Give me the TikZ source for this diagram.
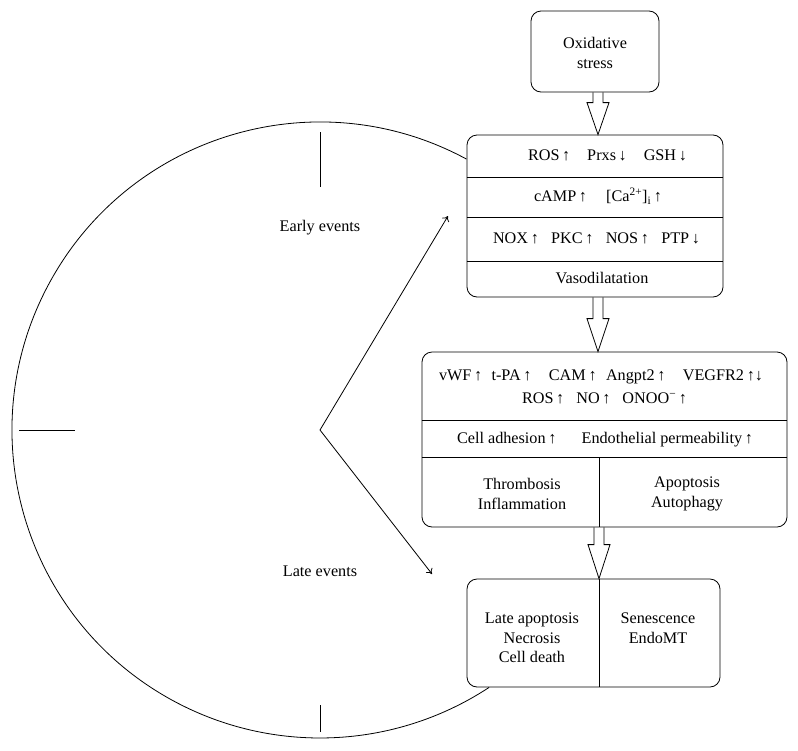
\documentclass[tikz,border=0pt]{standalone}
\usepackage{fontspec}
\setmainfont{Liberation Serif}
\usetikzlibrary{calc,arrows.meta}
\newcommand\hollowarrow[3]{%
  \draw[harrow] let \p1=(#1), \p2=(#2) in
    (\x2-5pt,\y1) -- (\x2-5pt,\y2+#3) -- (\x2-11pt,\y2+#3) -- (\x2,\y2)
    -- (\x2+11pt,\y2+#3) -- (\x2+5pt,\y2+#3) -- (\x2+5pt,\y1);}
\newcommand\spreadline[2]{\makebox[#1]{#2}}
\begin{document}
\begin{tikzpicture}[x=1pt,y=-1pt,
  line width=0.8pt,
  box/.style={draw, rounded corners=10pt, inner sep=0pt},
  txtm/.style={font=\fontsize{16.2}{19.5}\selectfont, align=center, inner sep=0pt},
  txt/.style={txtm, text height=10.5pt, text depth=3pt},
  tickline/.style={line width=0.9pt},
  harrow/.style={draw, line width=0.8pt, line join=miter},
  thinarrow/.style={-{To[length=5pt,width=8pt]}, line width=0.8pt}
]
\useasboundingbox (0,0) rectangle (798,750);

% clock face
\coordinate (cc) at (320,430);
\draw ($(cc)+(-61.6:308)$) arc[start angle=-61.6, end angle=-303.3, radius=308];
\draw[tickline] (320,132) -- (320,187);
\draw[tickline] (19,430) -- (75,430);
\draw[tickline] (320,705) -- (320,732);
\node[txt] (early) at (320,228) {Early events};
\node[txt] (late) at (320,573) {Late events};

% boxes
\node[box, minimum width=128pt, minimum height=81pt] (b1) at (595,51.5) {};
\node[txtm] (t1) at (595,53) {Oxidative\\stress};

\node[box, minimum width=256pt, minimum height=162pt] (b2) at (595,216) {};
\draw ($(b2.north west)+(0,43)$) -- ($(b2.north east)+(0,43)$);
\draw ($(b2.north west)+(0,83)$) -- ($(b2.north east)+(0,83)$);
\draw ($(b2.north west)+(0,127)$) -- ($(b2.north east)+(0,127)$);
\node[txt] (r1) at (607.5,156.5) {\spreadline{159pt}{ROS\,↑\hfill Prxs\,↓\hfill GSH\,↓}};
\node[txt] (r2) at (598,198) {\spreadline{128pt}{cAMP\,↑\hfill [Ca\textsuperscript{2+}]\textsubscript{i}\,↑}};
\node[txt] (r3) at (596.5,240) {\spreadline{207pt}{NOX\,↑\hfill PKC\,↑\hfill NOS\,↑\hfill PTP\,↓}};
\node[txt] (r4) at (602,279.5) {Vasodilatation};

\node[box, minimum width=365pt, minimum height=175pt] (b3) at (604.5,439.5) {};
\draw ($(b3.north west)+(0,69)$) -- ($(b3.north east)+(0,69)$);
\draw ($(b3.north west)+(0,106)$) -- ($(b3.north east)+(0,106)$);
\draw ($(b3.north)+(-5.5,106)$) -- ($(b3.south)+(-5.5,0)$);
\node[txt] (s1) at (601,377) {\spreadline{324pt}{vWF\,↑\hfill t-PA\,↑\hfill\hspace{4pt} CAM\,↑\hfill Angpt2\,↑\hfill\hspace{4pt} VEGFR2\,↑↓}};
\node[txt] (s2) at (604.5,400) {\spreadline{165pt}{ROS\,↑\hfill NO\,↑\hfill ONOO\textsuperscript{−}\,↑}};
\node[txt] (s3) at (605,440) {\spreadline{296pt}{Cell adhesion\,↑\hfill Endothelial permeability\,↑}};
\node[txtm] (s4) at (522,494) {Thrombosis\\Inflammation};
\node[txtm] (s5) at (687,494) {Apoptosis\\Autophagy};

\node[box, minimum width=253pt, minimum height=108pt] (b4) at (593.5,633) {};
\draw ($(b4.north)+(5.5,0)$) -- ($(b4.south)+(5.5,0)$);
\node[txtm] (u1) at (532,638) {Late apoptosis\\Necrosis\\Cell death};
\node[txtm] (u2) at (658,628) {Senescence\\EndoMT};

% hollow arrows
\coordinate (tip1) at ([xshift=3pt]b2.north);
\coordinate (tip2) at ([xshift=-6.5pt]b3.north);
\coordinate (tip3) at ([xshift=5.5pt]b4.north);
\hollowarrow{b1.south}{tip1}{32pt}
\hollowarrow{b2.south}{tip2}{33pt}
\hollowarrow{b3.south}{tip3}{34pt}

% clock hands
\coordinate (ea) at (448,216);
\coordinate (la) at (432,574);
\draw[thinarrow] (cc) -- (ea);
\draw[thinarrow] (cc) -- (la);
\end{tikzpicture}
\end{document}
